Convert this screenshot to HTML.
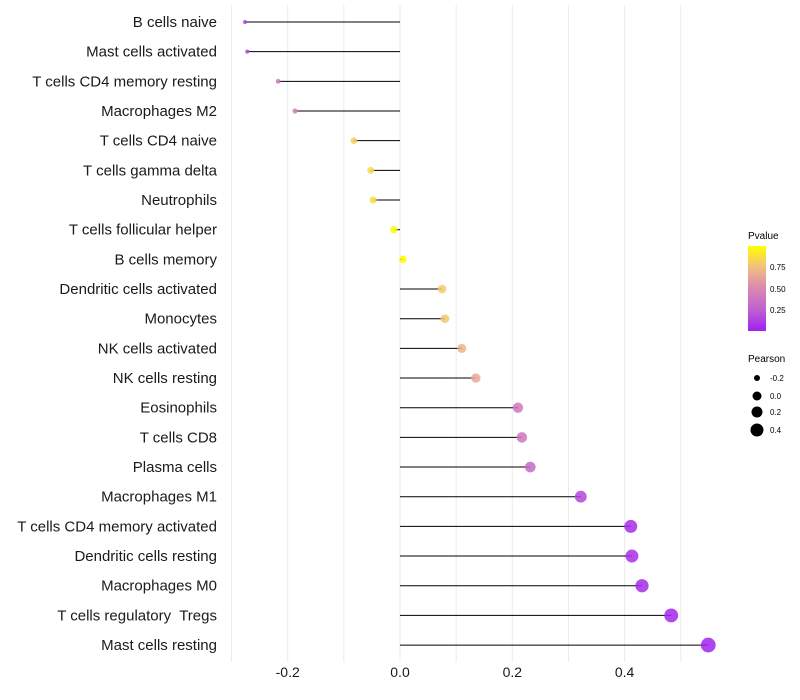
<!DOCTYPE html>
<html><head><meta charset="utf-8"><style>
body{margin:0;background:#fff}svg{display:block;font-family:"Liberation Sans",Arial,sans-serif}
text{white-space:pre}
</style></head><body>
<svg id="c" width="800" height="700">
<defs><linearGradient id="pg" x1="0" y1="1" x2="0" y2="0">
<stop offset="0" stop-color="#A020F0"/><stop offset="0.25" stop-color="#C060D0"/><stop offset="0.5" stop-color="#DA88B0"/><stop offset="0.75" stop-color="#F2BE82"/><stop offset="1" stop-color="#FFFF00"/></linearGradient></defs>
<g id="grid"></g><g id="marks"></g><g id="labels"></g><g id="xaxis"></g>
<g>
<text x="748" y="239" font-size="10" fill="#000">Pvalue</text>
<rect x="748" y="246" width="18" height="85" fill="url(#pg)"/>
<text x="770" y="270" font-size="8">0.75</text>
<text x="770" y="292" font-size="8">0.50</text>
<text x="770" y="313" font-size="8">0.25</text>
</g>
<g>
<text x="748" y="362" font-size="10">Pearson</text>
<circle cx="757" cy="378" r="3"/><text x="770" y="381" font-size="8">-0.2</text>
<circle cx="757" cy="396" r="4.5"/><text x="770" y="399" font-size="8">0.0</text>
<circle cx="757" cy="412" r="5.5"/><text x="770" y="415" font-size="8">0.2</text>
<circle cx="757" cy="430" r="6.5"/><text x="770" y="433" font-size="8">0.4</text>
</g>
</svg>
<script>
const categories=["B cells naive","Mast cells activated","T cells CD4 memory resting","Macrophages M2","T cells CD4 naive","T cells gamma delta","Neutrophils","T cells follicular helper","B cells memory","Dendritic cells activated","Monocytes","NK cells activated","NK cells resting","Eosinophils","T cells CD8","Plasma cells","Macrophages M1","T cells CD4 memory activated","Dendritic cells resting","Macrophages M0","T cells regulatory  Tregs","Mast cells resting"];
const pearson=[-0.276,-0.272,-0.217,-0.187,-0.082,-0.052,-0.048,-0.011,0.005,0.075,0.080,0.110,0.135,0.210,0.217,0.232,0.322,0.411,0.413,0.431,0.483,0.549];
const pvalue=[0.12,0.15,0.40,0.45,0.80,0.86,0.87,0.98,0.99,0.80,0.78,0.70,0.65,0.40,0.38,0.30,0.15,0.05,0.06,0.05,0.03,0.01];
const xTicks=[-0.2,0,0.2,0.4];
const xTickLabels=["-0.2","0.0","0.2","0.4"];
const NS="http://www.w3.org/2000/svg";
const x=v=>400+v*561.5;
const y=i=>22+i*29.67;
const stops=[[0,[160,32,240]],[0.25,[192,96,208]],[0.5,[218,136,176]],[0.75,[242,190,130]],[1,[255,255,0]]];
function col(p){for(let k=1;k<stops.length;k++){if(p<=stops[k][0]){const a=stops[k-1],b=stops[k],t=(p-a[0])/(b[0]-a[0]);return "rgb("+a[1].map((c,j)=>Math.round(c+(b[1][j]-c)*t)).join(",")+")";}}return "rgb(255,255,0)";}
const rad=v=>2+(v+0.28)*6.5;
function mk(t,at,parent){const e=document.createElementNS(NS,t);for(const k in at)e.setAttribute(k,at[k]);document.getElementById(parent).appendChild(e);return e;}
for(let g=-0.3;g<=0.51;g+=0.1){const l=mk("line",{x1:x(g),x2:x(g),y1:5,y2:662,stroke:"#ebebeb","stroke-width":1},"grid");

}
categories.forEach((c,i)=>{
const s=mk("line",{x1:x(0),x2:x(pearson[i]),y1:y(i),y2:y(i),stroke:"#000","stroke-width":1},"marks");


const d=mk("circle",{cx:x(pearson[i]),cy:y(i),r:rad(pearson[i]),fill:col(pvalue[i]),"fill-opacity":0.85},"marks");


const t=mk("text",{x:217,y:y(i)+5,"text-anchor":"end","font-size":15,fill:"#1a1a1a"},"labels");t.textContent=c;


});
xTicks.forEach((v,i)=>{const t=mk("text",{x:x(v),y:677,"text-anchor":"middle","font-size":14,fill:"#1a1a1a"},"xaxis");t.textContent=xTickLabels[i];

});
</script>
</body></html>
